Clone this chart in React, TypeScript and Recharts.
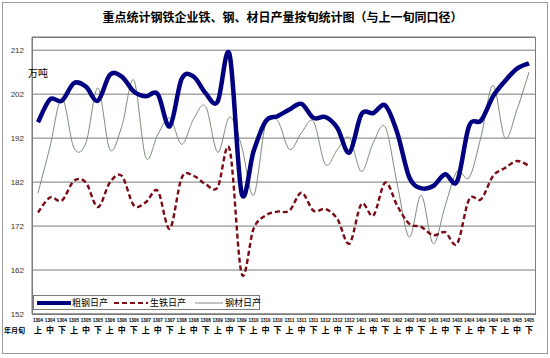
import { CartesianGrid, Line, LineChart, XAxis, YAxis } from 'recharts';

const periods = [
  '1304', '1304', '1304', '1305', '1305', '1305', '1306', '1306', '1306',
  '1307', '1307', '1307', '1308', '1308', '1308', '1309', '1309', '1309',
  '1310', '1310', '1310', '1311', '1311', '1311', '1312', '1312', '1312',
  '1401', '1401', '1401', '1402', '1402', '1402', '1403', '1403', '1403',
  '1404', '1404', '1404', '1405', '1405', '1405',
];
const dekads = ['上', '中', '下'];

const crudeSteel = [
  195.6, 200.8, 200.5, 204.5, 203.7, 200.5, 206.4, 206, 202.6, 201.5, 202, 194.7,
  205.5, 206, 202.2, 200.3, 211, 179.5, 189, 195.8, 197, 198.5, 199.8, 196.6,
  196.8, 194.3, 188.7, 197.4, 197.7, 199.4, 193.2, 183.1, 180.6, 181.1, 183.8, 182.2,
  194.8, 196, 201.5, 205, 207.8, 209,
];
const pigIron = [
  175.1, 178.5, 177.8, 182.3, 181.9, 176.3, 181.9, 183.4, 176.7, 177.4, 180, 171.4,
  183, 183.4, 181.5, 180.8, 189.5, 161.2, 171.4, 174.4, 175.3, 175.5, 179.6, 175.5,
  175.9, 173.6, 168, 177, 174.4, 181.9, 176.6, 172.5, 171.8, 169.9, 170.6, 168,
  178.1, 178.1, 183.4, 185.2, 186.8, 185.7,
];
const rolledSteel = [
  179.5, 190, 201.1, 189.8, 190.9, 203.4, 189.4, 194.7, 205.2, 187.6, 192.8, 196.6,
  190.6, 196.4, 199.2, 188.8, 196.8, 190.2, 179, 195, 196, 189.4, 193.2, 195.8,
  186, 189.4, 192.1, 184.4, 191, 194.5, 181.5, 169.5, 179, 168, 176.6, 184.5,
  183, 192.4, 204, 192, 198.5, 207,
];
const yTicks = [152, 162, 172, 182, 192, 202, 212];

const data = periods.map((p, i) => ({
  key: String(i),
  crude: crudeSteel[i],
  iron: pigIron[i],
  rolled: rolledSteel[i],
}));

const FONT = '"Noto Sans CJK SC", "Liberation Sans", sans-serif';

// Excel-style smoothed line: bezier through every point, catmull-rom tangents
const smoothCurve = (context: any) => {
  let pts: number[][] = [];
  return {
    areaStart() {},
    areaEnd() {},
    lineStart() {
      pts = [];
    },
    point(x: number, y: number) {
      pts.push([+x, +y]);
    },
    lineEnd() {
      if (!pts.length) return;
      context.moveTo(pts[0][0], pts[0][1]);
      for (let i = 0; i < pts.length - 1; i++) {
        const p0 = pts[i - 1] || pts[i];
        const p1 = pts[i];
        const p2 = pts[i + 1];
        const p3 = pts[i + 2] || p2;
        const c1x = p1[0] + (p2[0] - p0[0]) / 6;
        const c1y = p1[1] + (p2[1] - p0[1]) / 6;
        const c2x = p2[0] - (p3[0] - p1[0]) / 6;
        const c2y = p2[1] - (p3[1] - p1[1]) / 6;
        context.bezierCurveTo(c1x, c1y, c2x, c2y, p2[0], p2[1]);
      }
    },
  };
};

const DekadTick = (props: any) => {
  const { x, payload } = props;
  const i = Number(payload.value);
  return (
    <g>
      <text x={x} y={322} fontSize={4.6} fontWeight="bold" textAnchor="middle" fill="#000" fontFamily="Liberation Sans">
        {periods[i]}
      </text>
      <text x={x} y={333} fontSize={8} fontWeight="bold" textAnchor="middle" fill="#000" fontFamily={FONT}>
        {dekads[i % 3]}
      </text>
    </g>
  );
};

export default function App() {
  return (
    <div style={{ position: 'absolute', left: 0, top: 0, width: 550, height: 358, background: '#fff', fontFamily: FONT }}>
      <div style={{ position: 'absolute', left: 2, top: 2, width: 544, height: 350, border: '1px solid #9a9a9a' }} />
      <div style={{ position: 'absolute', left: 0, top: 8, width: 565, textAlign: 'center', fontSize: 12, fontWeight: 'bold', color: '#000' }}>
        重点统计钢铁企业铁、钢、材日产量按旬统计图（与上一旬同口径）
      </div>
      <LineChart width={550} height={358} data={data} margin={{ top: 37, right: 15, left: 0, bottom: 14 }} style={{ position: 'absolute', left: 0, top: 0 }}>
        <CartesianGrid vertical={false} stroke="#7a7a7a" />
        <XAxis
          dataKey="key"
          interval={0}
          height={30}
          padding={{ left: 6, right: 6 }}
          tick={<DekadTick />}
          tickLine={false}
          axisLine={{ stroke: '#7a7a7a' }}
        />
        <YAxis
          width={32}
          domain={[152, 215]}
          ticks={yTicks}
          interval={0}
          tick={{ fontSize: 8, fill: '#333', fontFamily: 'Liberation Sans' }}
          tickLine={false}
          axisLine={{ stroke: '#7a7a7a' }}
        />
        <Line type={smoothCurve as any} dataKey="rolled" stroke="#7d8c7d" strokeWidth={1} dot={false} isAnimationActive={false} />
        <Line type={smoothCurve as any} dataKey="iron" stroke="#7a0a14" strokeWidth={2.4} strokeDasharray="5 3" dot={false} isAnimationActive={false} />
        <Line type={smoothCurve as any} dataKey="crude" stroke="#000080" strokeWidth={4.5} dot={false} isAnimationActive={false} />
      </LineChart>
      <div style={{ position: 'absolute', left: 32, top: 37, width: 502, height: 276, border: '1px solid #7a7a7a', pointerEvents: 'none' }} />
      <div style={{ position: 'absolute', left: 28, top: 65, fontSize: 10, color: '#000' }}>万吨</div>
      <div style={{ position: 'absolute', left: 4, top: 325, fontSize: 7, fontWeight: 'bold', color: '#000' }}>年月旬</div>
      <div style={{ position: 'absolute', left: 33, top: 295, width: 225, height: 13, border: '1px solid #7a7a7a', background: '#fff', fontSize: 9, color: '#000', display: 'flex', alignItems: 'center', whiteSpace: 'nowrap', lineHeight: '12px' }}>
        <svg width={34} height={10} style={{ marginLeft: 3, flexShrink: 0 }}><line x1={0} y1={5} x2={34} y2={5} stroke="#000080" strokeWidth={4} /></svg>
        <span style={{ marginLeft: 1 }}>粗钢日产</span>
        <svg width={34} height={10} style={{ marginLeft: 6, flexShrink: 0 }}><line x1={0} y1={5} x2={34} y2={5} stroke="#7a0a14" strokeWidth={2} strokeDasharray="5 3" /></svg>
        <span style={{ marginLeft: 2 }}>生铁日产</span>
        <svg width={28} height={10} style={{ marginLeft: 9, flexShrink: 0 }}><line x1={0} y1={5} x2={28} y2={5} stroke="#7d8c7d" strokeWidth={1} /></svg>
        <span style={{ marginLeft: 2 }}>钢材日产</span>
      </div>
    </div>
  );
}
